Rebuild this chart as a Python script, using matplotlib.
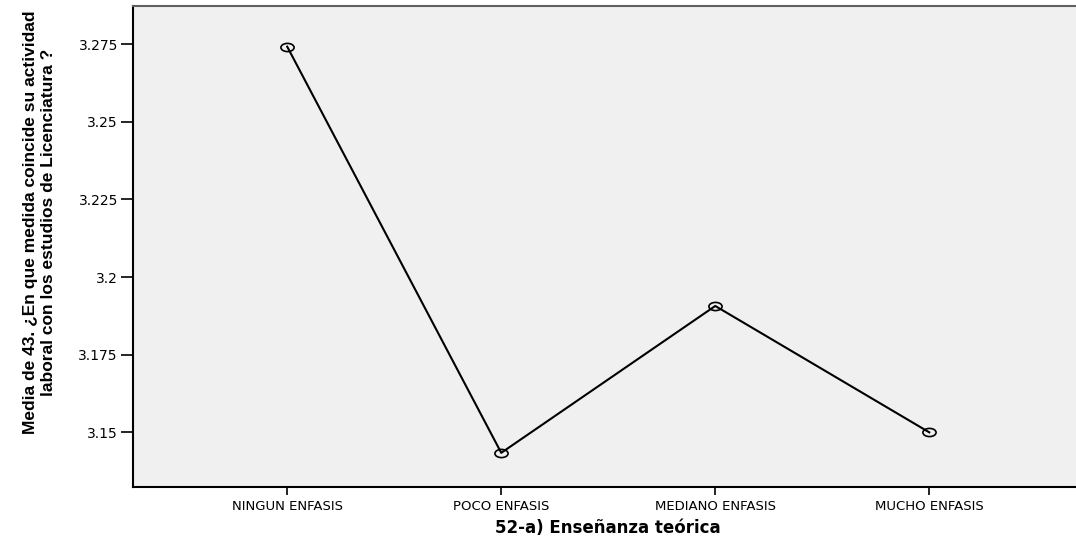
import numpy as np
import matplotlib
matplotlib.use("Agg")
import matplotlib.pyplot as plt
from matplotlib.path import Path
from matplotlib.transforms import Affine2D

categories = ["NINGUN ENFASIS", "POCO ENFASIS", "MEDIANO ENFASIS", "MUCHO ENFASIS"]
means = [3.2742, 3.1434, 3.1907, 3.1500]
yticks = [3.15, 3.175, 3.2, 3.225, 3.25, 3.275]
ytick_labels = ["3.15", "3.175", "3.2", "3.225", "3.25", "3.275"]

plt.rcParams['font.family'] = ['DejaVu Sans']

fig = plt.figure(figsize=(10.76, 5.42), dpi=100)
ax = fig.add_axes([132.5 / 1076, 54.7 / 542, 951.5 / 1076, 481.3 / 542])
ax.set_facecolor("#f0f0f0")

# flattened circle marker, like the SPSS output
ell = Path.unit_circle().transformed(Affine2D().scale(1.0, 0.62))

x = np.arange(len(categories))
ax.plot(x, means, color="black", lw=1.5, marker=ell, markersize=9.5,
        markerfacecolor="none", markeredgecolor="black", markeredgewidth=1.2)

ax.set_xlim(-0.723, 3.723)
ax.set_ylim(3.1323, 3.2873)

ax.set_xticks(x)
ax.set_xticklabels(categories, fontsize=9.5)
ax.set_yticks(yticks)
ax.set_yticklabels(ytick_labels, fontsize=10)
ax.tick_params(axis="y", length=9, width=1.2, pad=1.5)
ax.tick_params(axis="x", length=5.5, width=1.2, pad=4)

for side in ["left", "bottom"]:
    ax.spines[side].set_color("black")
    ax.spines[side].set_linewidth(1.5)
ax.spines["top"].set_color("#606060")
ax.spines["top"].set_linewidth(1.5)
ax.spines["right"].set_visible(False)

ax.set_xlabel("52-a) Enseñanza teórica", fontsize=12, fontweight="bold", labelpad=4)
ax.set_ylabel("Media de 43. ¿En que medida coincide su actividad\nlaboral con los estudios de Licenciatura ?",
              fontsize=12.5, fontweight="bold", linespacing=1.3,
              family=['Liberation Sans Narrow', 'Liberation Sans', 'DejaVu Sans'])
ax.yaxis.set_label_coords(-0.08, 0.55)

fig.savefig("out.png", dpi=100)
